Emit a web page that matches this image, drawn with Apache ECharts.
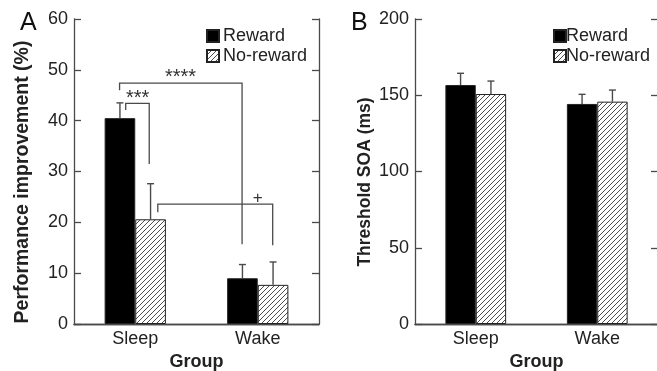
<!DOCTYPE html>
<html>
<head>
<meta charset="utf-8">
<script src="https://cdn.jsdelivr.net/npm/echarts@6/dist/echarts.min.js"></script>
<style>
  html, body { margin: 0; padding: 0; background: #fff; }
  #chart { width: 657px; height: 371px; }
</style>
</head>
<body>
<div id="chart"></div>
<script>
// Groups shown on both panels
const groups = ['Sleep', 'Wake'];

// Panel A: performance improvement (%), bar means and upper ends of the error bars
const improveReward = [40.5, 9.0];
const improveRewardErr = [43.5, 11.7];
const improveNoReward = [20.6, 7.7];
const improveNoRewardErr = [27.6, 12.2];

// Panel B: threshold SOA (ms), bar means and upper ends of the error bars
const soaReward = [156.7, 144.3];
const soaRewardErr = [164.4, 150.6];
const soaNoReward = [150.8, 145.8];
const soaNoRewardErr = [159.3, 153.4];

// Axis ranges / tick steps
const improveAxis = [0, 60, 10];
const soaAxis = [0, 200, 50];

// Significance brackets on panel A
// [left group, left offset, right group, right offset, top, left end, right end, label group, label offset, label value]
const bracketLabels = ['***', '****', '+'];
const bracketRows = [
  [0, -0.078, 0, 0.114, 43.4, 42.1, 31.5, 0, 0.02, 44.4],
  [0, -0.128, 1, -0.128, 47.4, 46.0, 15.7, 0, 0.37, 48.4],
  [0, 0.184, 1, 0.122, 23.6, 22.0, 15.5, 1, 0.0, 24.8]
];

const FONT = '"Liberation Sans", Arial, Helvetica, sans-serif';
const AXIS_COLOR = '#4a4a4a';
const TEXT_COLOR = '#222';

// Diagonal hatch fill used for the No-reward bars
function hatchCanvas() {
  const s = 5;
  const c = document.createElement('canvas');
  c.width = s; c.height = s;
  const g = c.getContext('2d');
  g.fillStyle = '#fff';
  g.fillRect(0, 0, s, s);
  g.strokeStyle = '#3a3a3a';
  g.lineWidth = 0.9;
  g.beginPath();
  g.moveTo(-1, s + 1); g.lineTo(s + 1, -1);
  g.moveTo(-1, 1); g.lineTo(1, -1);
  g.moveTo(s - 1, s + 1); g.lineTo(s + 1, s - 1);
  g.stroke();
  return c;
}
const hatch = { image: hatchCanvas(), repeat: 'repeat' };

// Error bars: upward whisker with a short cap
function errorRows(err, offset) {
  return err.map((v, i) => [i, offset, v]);
}
function errorSeries(gridIdx, means, err, offset) {
  return {
    type: 'custom',
    xAxisIndex: gridIdx * 2,
    yAxisIndex: gridIdx * 2,
    z: 5,
    silent: true,
    data: errorRows(err, offset),
    renderItem(params, api) {
      const band = api.size([1, 0])[0];
      const i = api.value(0);
      const base = api.coord([i, means[i]]);
      const top = api.coord([i, api.value(2)]);
      const x = base[0] + api.value(1) * band;
      const cap = 3.5;
      return {
        type: 'group',
        children: [
          { type: 'line', shape: { x1: x, y1: base[1], x2: x, y2: top[1] },
            style: { stroke: AXIS_COLOR, lineWidth: 1.4 } },
          { type: 'line', shape: { x1: x - cap, y1: top[1], x2: x + cap, y2: top[1] },
            style: { stroke: AXIS_COLOR, lineWidth: 1.4 } }
        ]
      };
    }
  };
}

function barSeries(gridIdx, name, values, fill) {
  return {
    type: 'bar',
    name,
    xAxisIndex: gridIdx * 2,
    yAxisIndex: gridIdx * 2,
    data: values,
    barGap: 0,
    barCategoryGap: '50%',
    itemStyle: { color: fill, borderColor: '#222', borderWidth: 1 },
    emphasis: { disabled: true }
  };
}

function xAxes(gridIdx) {
  const line = { lineStyle: { color: AXIS_COLOR, width: 1.3 } };
  return [
    {
      gridIndex: gridIdx, type: 'category', data: groups, position: 'bottom',
      axisLine: line,
      axisTick: { inside: true, length: 7, lineStyle: { color: AXIS_COLOR, width: 1.3 } },
      axisLabel: { fontSize: 18, color: TEXT_COLOR, fontFamily: FONT, margin: 6 },
      name: 'Group', nameLocation: 'middle', nameGap: 25,
      nameTextStyle: { fontSize: 18, fontWeight: 'bold', color: TEXT_COLOR, fontFamily: FONT }
    },
    {
      gridIndex: gridIdx, type: 'category', data: groups, position: 'top',
      axisLine: line,
      axisTick: { inside: true, length: 7, lineStyle: { color: AXIS_COLOR, width: 1.3 } },
      axisLabel: { show: false }
    }
  ];
}

function yAxes(gridIdx, range, title, size, pad) {
  const common = {
    gridIndex: gridIdx, type: 'value', min: range[0], max: range[1], interval: range[2],
    axisLine: { show: true, lineStyle: { color: AXIS_COLOR, width: 1.3 } },
    axisTick: { show: true, inside: true, length: 7, lineStyle: { color: AXIS_COLOR, width: 1.3 } },
    splitLine: { show: false }
  };
  return [
    Object.assign({}, common, {
      position: 'left',
      axisLabel: { fontSize: 18, color: TEXT_COLOR, fontFamily: FONT, margin: 6 },
      name: title, nameLocation: 'middle', nameGap: 41,
      nameTextStyle: { fontSize: size, fontWeight: 'bold', color: TEXT_COLOR, fontFamily: FONT,
                       padding: [0, pad, 0, 0] }
    }),
    Object.assign({}, common, { position: 'right', axisLabel: { show: false } })
  ];
}

function legendAt(left, textPad) {
  return {
    left, top: 27, orient: 'vertical', padding: 0,
    icon: 'rect', itemWidth: 12, itemHeight: 12, itemGap: 2,
    selectedMode: false,
    data: ['Reward', 'No-reward'],
    textStyle: { fontSize: 18, color: TEXT_COLOR, fontFamily: FONT, padding: [0, 0, 0, textPad] }
  };
}

const chart = echarts.init(document.getElementById('chart'), null, { renderer: 'canvas' });
chart.setOption({
  animation: false,
  backgroundColor: '#fff',
  grid: [
    { left: 74, top: 19, width: 245, height: 305, outerBoundsMode: 'none', containLabel: false },
    { left: 415, top: 19, width: 243, height: 305, outerBoundsMode: 'none', containLabel: false }
  ],
  xAxis: [...xAxes(0), ...xAxes(1)],
  yAxis: [
    ...yAxes(0, improveAxis, 'Performance improvement (%)', 19.5, 21),
    ...yAxes(1, soaAxis, 'Threshold SOA (ms)', 17.5, 21)
  ],
  legend: [legendAt(206, -1), legendAt(553, -5)],
  graphic: [
    { type: 'text', left: 20, top: 11, style: { text: 'A', font: '25px ' + FONT, fill: '#111' } },
    { type: 'text', left: 351, top: 11, style: { text: 'B', font: '25px ' + FONT, fill: '#111' } }
  ],
  series: [
    barSeries(0, 'Reward', improveReward, '#000'),
    barSeries(0, 'No-reward', improveNoReward, hatch),
    errorSeries(0, improveReward, improveRewardErr, -0.125),
    errorSeries(0, improveNoReward, improveNoRewardErr, 0.125),
    barSeries(1, 'Reward', soaReward, '#000'),
    barSeries(1, 'No-reward', soaNoReward, hatch),
    errorSeries(1, soaReward, soaRewardErr, -0.125),
    errorSeries(1, soaNoReward, soaNoRewardErr, 0.125),
    {
      type: 'custom',
      xAxisIndex: 0,
      yAxisIndex: 0,
      z: 6,
      silent: true,
      data: bracketRows,
      renderItem(params, api) {
        const band = api.size([1, 0])[0];
        const px = (g, off, v) => {
          const p = api.coord([g, v]);
          return [p[0] + off * band, p[1]];
        };
        const lTop = px(api.value(0), api.value(1), api.value(4));
        const rTop = px(api.value(2), api.value(3), api.value(4));
        const lEnd = px(api.value(0), api.value(1), api.value(5));
        const rEnd = px(api.value(2), api.value(3), api.value(6));
        const lab = px(api.value(7), api.value(8), api.value(9));
        const text = bracketLabels[params.dataIndex];
        return {
          type: 'group',
          children: [
            { type: 'polyline',
              shape: { points: [lEnd, lTop, rTop, rEnd] },
              style: { stroke: AXIS_COLOR, lineWidth: 1.3, fill: null } },
            { type: 'text',
              style: { text, x: lab[0], y: lab[1], align: 'center', verticalAlign: 'middle',
                       font: (text === '+' ? '17px ' : '20px ') + FONT, fill: '#333' } }
          ]
        };
      }
    }
  ]
});
</script>
</body>
</html>
